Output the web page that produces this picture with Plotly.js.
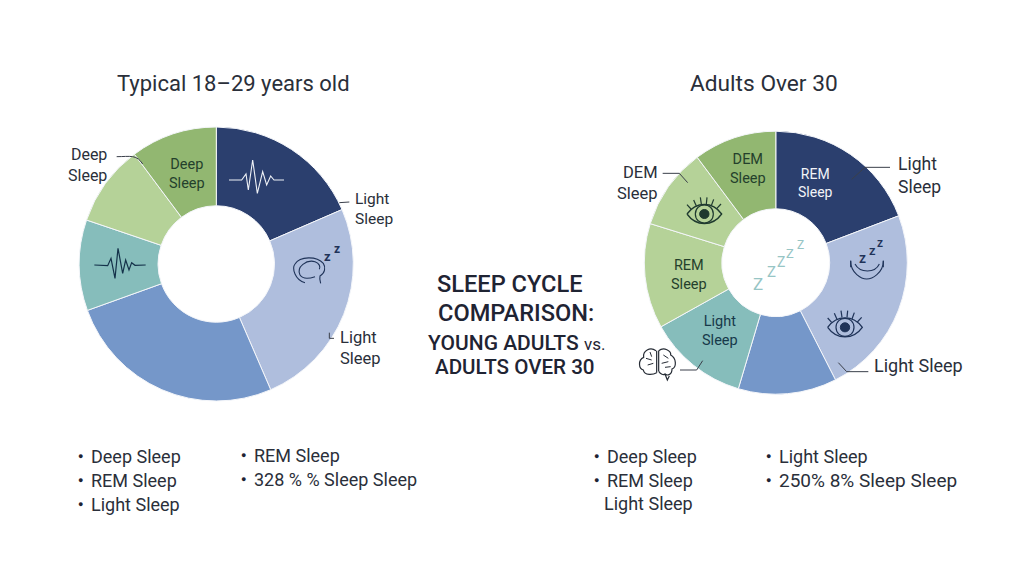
<!DOCTYPE html>
<html><head><meta charset="utf-8">
<script src="https://cdn.plot.ly/plotly-3.0.1.min.js"></script>
<style>html,body{margin:0;padding:0;background:#fff}#c{width:1024px;height:576px}</style>
</head><body><div id="c"></div>
<script>
// ---- data ----
const youngSegments = ['Segment 1 navy','Segment 2 pale blue','Segment 3 mid blue','Segment 4 teal','Segment 5 pale green','Segment 6 green'];
const youngValues   = [18.5, 25.0, 26.0, 10.7, 9.6, 10.2];
const youngColors   = ['#2b3f6e','#afbedd','#7597c9','#86bdbb','#b5d298','#92b771'];
const olderSegments = ['Segment 1 navy','Segment 2 pale blue','Segment 3 mid blue','Segment 4 teal','Segment 5 pale green','Segment 6 pale green','Segment 7 green'];
const olderValues   = [19.2, 23.3, 12.1, 12.3, 12.9, 10.0, 10.2];
const olderColors   = ['#2b3f6e','#afbedd','#7597c9','#86bdbb','#b5d298','#b5d298','#92b771'];

const titleLeft = 'Typical 18–29 years old';
const titleRight = 'Adults Over 30';
const listLeftA = ['Deep Sleep','REM Sleep','Light Sleep'];
const listLeftB = ['REM Sleep','328 % % Sleep Sleep'];
const listRightA = ['Deep Sleep','REM Sleep'];
const listRightPlain = 'Light Sleep';
const listRightB = ['Light Sleep','250% 8% Sleep Sleep'];

// ---- helpers ----
const W = 1024, H = 576, FONT = 'Roboto, sans-serif', INK = '#2a2f3a';
const px = x => x / W, py = y => 1 - y / H;
const annotations = [], shapes = [];
function label(text, x, y, size, opts) {
  opts = opts || {};
  annotations.push({text, x: px(x), y: py(y), xref:'paper', yref:'paper', showarrow:false,
    xanchor: opts.anchor || 'center', yanchor:'middle', align: opts.align || opts.anchor || 'center',
    font:{family: FONT, size, color: opts.color || INK, weight: opts.weight || 400}});
}
function mapper(ox, oy) { return (x, y) => (ox + x / 3) / W + ',' + (1 - (oy + y / 3) / H); }
function line(m, pts, color, width) {
  const d = pts.map((p, i) => (i ? 'L' : 'M') + m(p[0], p[1])).join(' ').replace(/,/g, ' ');
  shapes.push({type:'path', xref:'paper', yref:'paper', path:d, line:{color, width: width || 1.2}, layer:'above'});
}
function curve(m, start, segs, color, width, fill) {
  let d = 'M' + m(start[0], start[1]);
  segs.forEach(s => { d += ' C' + m(s[0], s[1]) + ' ' + m(s[2], s[3]) + ' ' + m(s[4], s[5]); });
  d = d.replace(/,/g, ' ');
  if (fill) d += ' Z';
  shapes.push({type:'path', xref:'paper', yref:'paper', path:d, line:{color, width: width || 1.2},
    fillcolor: fill || 'rgba(0,0,0,0)', layer:'above'});
}
function eye(m, cx, cy, color) {
  curve(m, [cx-52,cy], [[cx-25,cy-38,cx+25,cy-38,cx+52,cy],[cx+25,cy+38,cx-25,cy+38,cx-52,cy]], color, 1.3);
  curve(m, [cx-27,cy], [[cx-27,cy-36,cx+27,cy-36,cx+27,cy],[cx+27,cy+36,cx-27,cy+36,cx-27,cy]], color, 1.2);
  curve(m, [cx-14,cy], [[cx-14,cy-18,cx+14,cy-18,cx+14,cy],[cx+14,cy+18,cx-14,cy+18,cx-14,cy]], color, 1, color);
  [[-52,-28,-40,-15],[-32,-42,-24,-24],[-12,-50,-9,-30],[8,-50,6,-30],[28,-44,21,-25],[50,-30,37,-16]].forEach(l =>
    line(m, [[cx+l[0],cy+l[1]],[cx+l[2],cy+l[3]]], color, 1.2));
}

// ---- text ----
label(titleLeft, 233, 83, 22);
label(titleRight, 764, 83, 22.7);
label('SLEEP CYCLE', 509.5, 283.5, 23.6, {weight:500, color:'#1f2433'});
label('COMPARISON:', 516, 312.5, 23.6, {weight:500, color:'#1f2433'});
label('YOUNG ADULTS <span style="font-weight:400;font-size:17px">vs.</span>', 516.5, 343, 21, {weight:500, color:'#1f2433'});
label('ADULTS OVER 30', 515, 367, 20.6, {weight:500, color:'#1f2433'});

function list(items, x, startY, sizes) {
  items.forEach((t, i) => {
    label('●', x, startY + i * 24, 9, {anchor:'center', color:'#1f2433'});
    label(t, x + 9, startY + i * 24, (sizes && sizes[i]) || 18, {anchor:'left'});
  });
}
list(listLeftA, 80, 456);
list(listLeftB, 243, 455);
list(listRightA, 596, 456);
label(listRightPlain, 602, 503, 18, {anchor:'left'});
list(listRightB, 768, 456, [18, 19]);

// two-line labels kept as one text block, aligned to the edge the lines share
function pair(a, b, x, y, size, color, align) {
  label(a + '<br>' + b, x, y, size, {color, align});
}
pair('Deep', 'Sleep', 186.5, 173.5, 14.5, '#24402c');
pair('Deep', 'Sleep', 87.5, 165, 16, INK, 'right');
pair('Light', 'Sleep', 374, 209, 15.5, INK, 'left');
pair('Light', 'Sleep', 360, 348, 16.5, INK, 'left');
pair('DEM', 'Sleep', 747.5, 169.5, 14.5, '#24402c');
pair('REM', 'Sleep', 815.5, 183.5, 14, '#f2f4f8');
pair('REM', 'Sleep', 688.5, 275, 14.5, '#24402c');
pair('Light', 'Sleep', 720, 331, 14.5, '#17394a');
pair('DEM', 'Sleep', 637.5, 183, 16.5, INK, 'right');
pair('Light', 'Sleep', 919, 175.5, 17.5, INK, 'left');
label('Light Sleep', 918, 365, 18);

// leaders
const L = mapper(60, 110), R = mapper(600, 110), LINE = '#3a3f4a';
curve(L, [170,140], [[190,140,205,138,218,140],[232,142,240,150,248,162]], LINE, 1);
line(L, [[838,278],[868,276]], LINE, 1);
line(L, [[808,668],[808,685],[822,685]], LINE, 1);
line(R, [[188,190],[238,190],[263,218]], LINE, 1);
line(R, [[870,172],[795,172],[755,208]], LINE, 1);
line(R, [[805,785],[740,785],[715,758]], LINE, 1);
line(R, [[240,780],[290,780],[308,752]], LINE, 1);

// waves
line(L, [[507,210],[545,210],[558,192],[565,240],[578,150],[592,250],[608,185],[620,225],[632,198],[642,210],[672,210]], '#eef1f6', 1.1);
line(L, [[103,465],[143,467],[153,445],[165,505],[174,415],[188,490],[197,450],[207,480],[215,458],[225,466],[257,465]], '#14324a', 1.2);

// sleeping head (left)
const NV = '#1f3358';
curve(L, [735,518], [[705,510,695,475,705,462],[720,438,770,438,790,460],[798,472,795,490,780,498],[778,505,780,512,782,520]], NV, 1.1);
curve(L, [720,495], [[708,470,740,448,765,455],[778,460,782,470,778,478]], NV, 1.1);
curve(L, [720,495], [[730,510,750,505,765,500]], NV, 1.1);
label('z', 327, 256, 13, {color:NV, weight:700});
label('z', 337, 249, 12, {color:NV, weight:700});

// right: eyes, arc, brain, zeds
eye(R, 313, 312, '#1f3a2f');
eye(R, 735, 652, NV);
curve(R, [752,452], [[752,490,785,507,800,507],[815,507,850,490,850,452]], NV, 1.1);
curve(R, [765,462], [[780,490,825,490,838,462]], NV, 1.1);
line(R, [[752,452],[752,472]], NV, 1.1); line(R, [[850,452],[850,472]], NV, 1.1);
label('z', 862, 258, 14, {color:NV, weight:500});
label('z', 872, 250, 13, {color:NV, weight:500});
label('z', 880, 243, 12, {color:NV, weight:500});
const BR = '#262c35';
curve(R, [168,722], [[150,710,128,722,131,742],[113,750,116,777,130,780],[133,798,160,794,170,788]], BR, 1.2);
line(R, [[170,722],[170,788]], BR, 1.2);
curve(R, [176,722], [[192,710,214,722,212,735],[230,745,230,772,216,777],[216,797,200,797,195,792],[190,797,182,792,176,784]], BR, 1.2);
line(R, [[176,722],[176,784]], BR, 1.2);
line(R, [[195,792],[202,810],[208,798]], BR, 1.2);
[[[138,745],[155,750]],[[143,765],[160,760]],[[150,726],[155,740]],[[190,735],[205,745]],[[185,760],[205,755]],[[195,772],[212,770]]].forEach(s => line(R, s, BR, 1));
[[758,284,17],[771,272,15],[781,262,14],[790,253,13],[800,245,12]].forEach(z =>
  label('Z', z[0], z[1], z[2], {color:'#97c5c5', weight:400}));

// ---- traces ----
function donut(names, values, colors, cx, cy, r, hole) {
  return {type:'pie', labels:names, values, sort:false, direction:'clockwise', rotation:0, hole,
    marker:{colors, line:{color:'#f4f6fa', width:1}}, textinfo:'none', hoverinfo:'skip', showlegend:false,
    domain:{x:[(cx-r)/W,(cx+r)/W], y:[1-(cy+r)/H,1-(cy-r)/H]}};
}
Plotly.newPlot('c', [
  donut(youngSegments, youngValues, youngColors, 216.3, 264, 137, 0.425),
  donut(olderSegments, olderValues, olderColors, 775.8, 262.7, 131.5, 0.41)
], {width:W, height:H, margin:{l:0,r:0,t:0,b:0}, paper_bgcolor:'#ffffff', plot_bgcolor:'#ffffff',
    showlegend:false, annotations, shapes}, {displayModeBar:false, staticPlot:true});
</script></body></html>
